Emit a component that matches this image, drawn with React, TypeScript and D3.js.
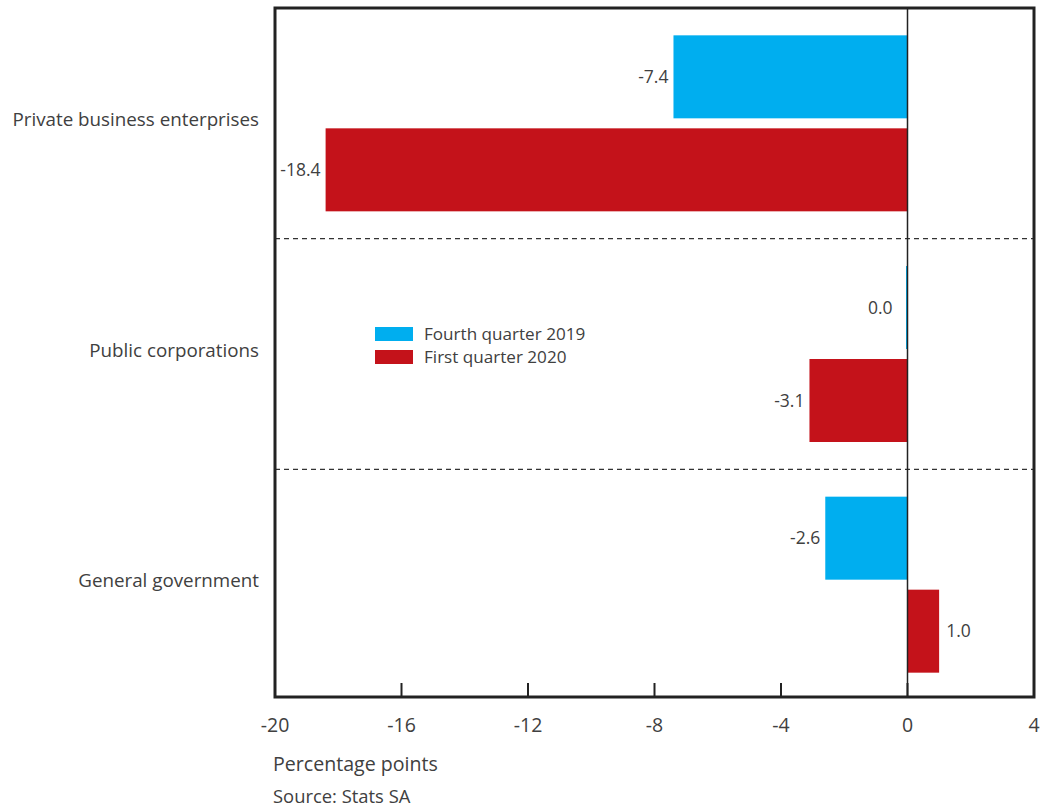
import React from "react";
import * as d3 from "d3";

const categories = ["Private business enterprises", "Public corporations", "General government"];
const seriesNames = ["Fourth quarter 2019", "First quarter 2020"];
const q4_2019 = [-7.4, 0.0, -2.6];
const q1_2020 = [-18.4, -3.1, 1.0];
const xTicks = [-20, -16, -12, -8, -4, 0, 4];
const colors = ["#00AEEF", "#C4121A"];

const W = 1044;
const H = 809;
const left = 275;
const right = 1034;
const top = 8;
const bottom = 697;

export default function App() {
  const x = d3.scaleLinear().domain([-20, 4]).range([left, right]);
  const y = d3.scaleBand<string>().domain(categories).range([top, bottom + 3]);
  const bandH = y.bandwidth();
  const barH = 83;
  const gap = 10;
  const series = [q4_2019, q1_2020];
  const font = "'Open Sans', Arial, sans-serif";
  const textColor = "#404040";

  return (
    <svg width={W} height={H} style={{ position: "absolute", left: 0, top: 0 }}>
      <rect x={0} y={0} width={W} height={H} fill="#fff" />
      {categories.map((c, ci) => {
        const center = (y(c) as number) + bandH / 2;
        const groupTop = center - (2 * barH + gap) / 2;
        return series.map((s, si) => {
          const v = s[ci];
          const x0 = x(Math.min(v, 0));
          const x1 = x(Math.max(v, 0));
          const w = Math.max(x1 - x0, 1.5);
          const by = groupTop + si * (barH + gap);
          const labelX = v > 0 ? x1 + 7 : v === 0 ? x(0) - 15 : x0 - 5;
          return (
            <g key={`${ci}-${si}`}>
              <rect x={v === 0 ? x(0) - 1.5 : x0} y={by} width={w} height={barH} fill={colors[si]} />
              <text
                x={labelX}
                y={by + barH / 2}
                dy="0.35em"
                textAnchor={v > 0 ? "start" : "end"}
                fontFamily={font}
                fontSize={17.5}
                fill={textColor}
              >
                {v.toFixed(1)}
              </text>
            </g>
          );
        });
      })}
      {categories.slice(1).map((c) => (
        <line
          key={c}
          x1={left}
          x2={right}
          y1={y(c) as number}
          y2={y(c) as number}
          stroke="#333"
          strokeWidth={1.2}
          strokeDasharray="5,4"
        />
      ))}
      <line x1={x(0)} x2={x(0)} y1={top} y2={bottom} stroke="#222" strokeWidth={1.5} />
      {xTicks.map((t) => (
        <g key={t}>
          <line x1={x(t)} x2={x(t)} y1={bottom - 14} y2={bottom} stroke="#222" strokeWidth={2} />
          <text
            x={x(t)}
            y={725}
            dy="0.35em"
            textAnchor="middle"
            fontFamily={font}
            fontSize={19.5}
            fill={textColor}
          >
            {t}
          </text>
        </g>
      ))}
      <rect
        x={left}
        y={top}
        width={right - left}
        height={bottom - top}
        fill="none"
        stroke="#222"
        strokeWidth={3}
      />
      {categories.map((c) => (
        <text
          key={c}
          x={259}
          y={(y(c) as number) + bandH / 2 - 4}
          dy="0.35em"
          textAnchor="end"
          fontFamily={font}
          fontSize={18.8}
          fill={textColor}
        >
          {c}
        </text>
      ))}
      {seriesNames.map((n, i) => (
        <g key={n} transform={`translate(375, ${327 + i * 23})`}>
          <rect x={0} y={0} width={38} height={14} fill={colors[i]} />
          <text x={49} y={7} dy="0.35em" fontFamily={font} fontSize={17.1} fill={textColor}>
            {n}
          </text>
        </g>
      ))}
      <text x={273} y={764} dy="0.35em" fontFamily={font} fontSize={19.6} fill={textColor}>
        Percentage points
      </text>
      <text x={273} y={797} dy="0.35em" fontFamily={font} fontSize={18.4} fill={textColor}>
        Source: Stats SA
      </text>
    </svg>
  );
}
